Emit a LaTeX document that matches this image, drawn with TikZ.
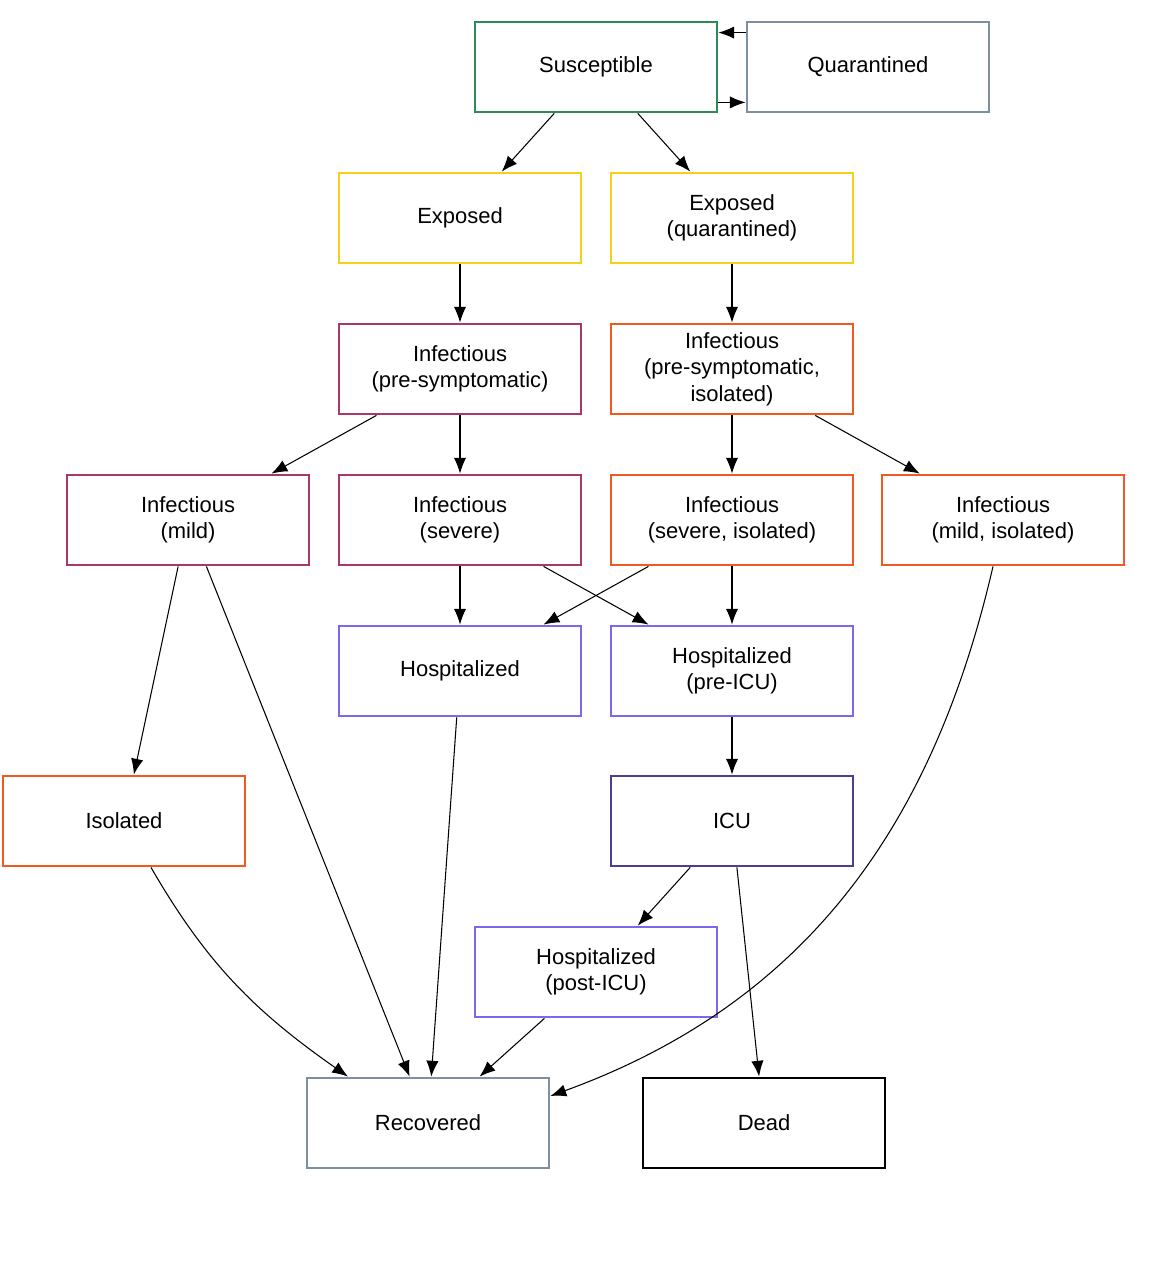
\documentclass[tikz,border=0pt]{standalone}
\usepackage{fontspec}
\setmainfont{Liberation Sans}
\usetikzlibrary{positioning, arrows.meta}

\definecolor{cgreen}{HTML}{2E8B57}
\definecolor{cgray}{HTML}{7D8FA0}
\definecolor{cyellow}{HTML}{F2D21B}
\definecolor{cmaroon}{HTML}{A8386A}
\definecolor{corange}{HTML}{F05A1E}
\definecolor{cpurple}{HTML}{7B68EE}
\definecolor{cdark}{HTML}{4B3F8F}

\tikzset{
  state/.style={draw, line width=1.6pt, minimum width=4.84cm, minimum height=1.8cm,
    align=center, font=\fontsize{12.5}{15}\selectfont},
  flow/.style={-{Latex[length=9pt,width=7pt]}, line width=0.6pt}
}

\begin{document}
\begin{tikzpicture}[x=0.02cm, y=-0.02cm]
\useasboundingbox (0,0) rectangle (1163,1280);

% rows of states
\node[state, draw=cgreen] (sus) at (596,67) {Susceptible};
\node[state, draw=cgray] (qua) at (868,67) {Quarantined};
\node[state, draw=cyellow] (exp) at (460,218) {Exposed};
\node[state, draw=cyellow] (expq) at (732,218) {Exposed\\(quarantined)};
\node[state, draw=cmaroon] (ipre) at (460,369) {Infectious\\(pre-symptomatic)};
\node[state, draw=corange] (ipreiso) at (732,369) {Infectious\\(pre-symptomatic,\\isolated)};
\node[state, draw=cmaroon] (imild) at (188,520) {Infectious\\(mild)};
\node[state, draw=cmaroon] (isev) at (460,520) {Infectious\\(severe)};
\node[state, draw=corange] (isevel) at (732,520) {Infectious\\(severe, isolated)};
\node[state, draw=corange] (imildiso) at (1003,520) {Infectious\\(mild, isolated)};
\node[state, draw=cpurple] (hosp) at (460,671) {Hospitalized};
\node[state, draw=cpurple] (hpre) at (732,671) {Hospitalized\\(pre-ICU)};
\node[state, draw=corange] (iso) at (124,821) {Isolated};
\node[state, draw=cdark] (icu) at (732,821) {ICU};
\node[state, draw=cpurple] (hpost) at (596,972) {Hospitalized\\(post-ICU)};
\node[state, draw=cgray] (rec) at (428,1123) {Recovered};
\node[state, draw=black] (dead) at (764,1123) {Dead};

% transitions
\draw[flow] ([yshift=-0.24cm]qua.north west) -- ([yshift=-0.24cm]sus.north east);
\draw[flow] ([yshift=0.22cm]sus.south east) -- ([yshift=0.22cm]qua.south west);
\draw[flow] (sus) -- (exp);
\draw[flow] (sus) -- (expq);
\draw[flow] (exp) -- (ipre);
\draw[flow] (expq) -- (ipreiso);
\draw[flow] (ipre) -- (imild);
\draw[flow] (ipre) -- (isev);
\draw[flow] (ipreiso) -- (isevel);
\draw[flow] (ipreiso) -- (imildiso);
\draw[flow] (imild) -- (iso);
\draw[flow] (imild) -- (rec);
\draw[flow] (isev) -- (hosp);
\draw[flow] (isev) -- (hpre);
\draw[flow] (isevel) -- (hosp);
\draw[flow] (isevel) -- (hpre);
\draw[flow] (hosp) -- (rec);
\draw[flow] (hpre) -- (icu);
\draw[flow] (icu) -- (hpost);
\draw[flow] (icu) -- (dead);
\draw[flow] (hpost) -- (rec);
\draw[flow] ([xshift=0.54cm]iso.south) to[out=-60, in=145] ([xshift=-1.6cm]rec.north);
\draw[flow] ([xshift=-0.2cm]imildiso.south) to[out=-103, in=20] ([yshift=0.54cm]rec.east);

\end{tikzpicture}
\end{document}
